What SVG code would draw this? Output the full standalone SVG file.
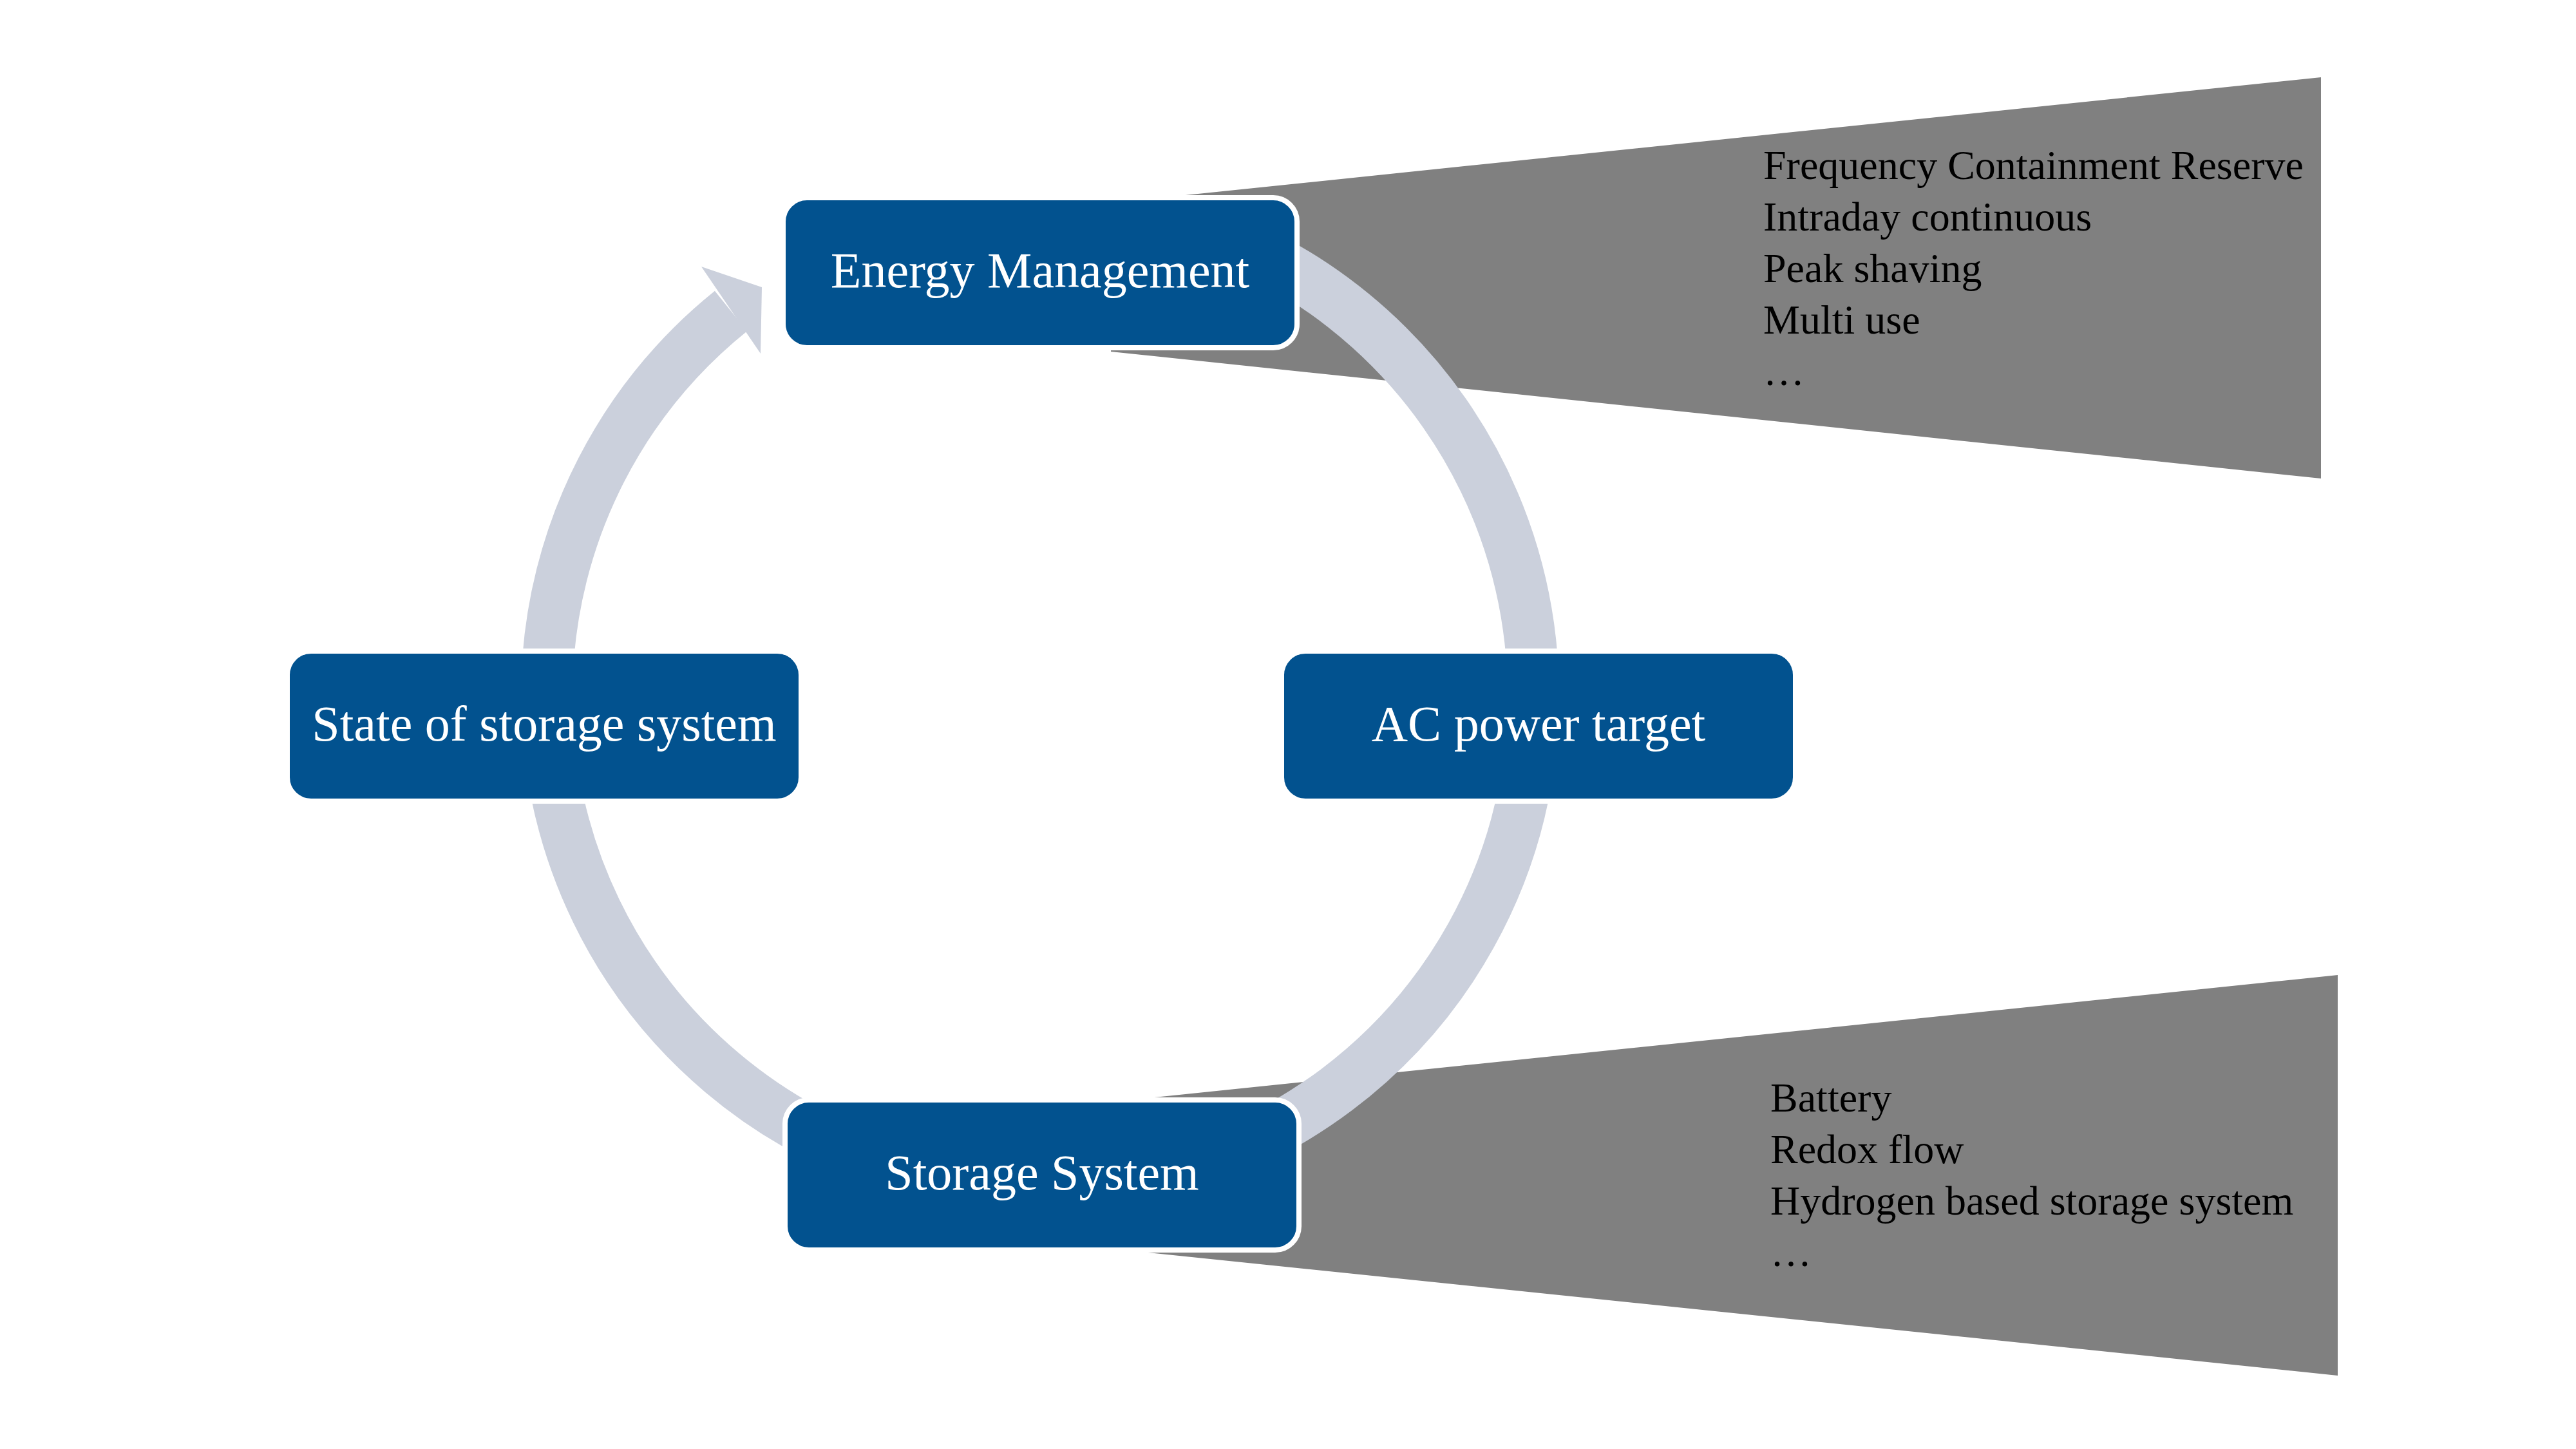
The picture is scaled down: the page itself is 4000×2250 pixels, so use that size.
<svg xmlns="http://www.w3.org/2000/svg" width="4000" height="2250" viewBox="0 0 4000 2250">
  <style>
    .wedge { fill: #808080; }
    .ring { fill: none; stroke: #CBD0DC; stroke-width: 80; }
    .arrowhead { fill: #CBD0DC; }
    .box { fill: #02528F; stroke: #FFFFFF; stroke-width: 8; }
    .label { font-family: "Liberation Serif", "Times New Roman", serif; font-size: 78px; fill: #FFFFFF; text-anchor: middle; }
    .item { font-family: "Liberation Serif", "Times New Roman", serif; font-size: 64px; fill: #000000; }
  </style>
  <rect x="0" y="0" width="4000" height="2250" fill="#FFFFFF"/>

  <g id="wedge-energy">
    <polygon class="wedge" points="1725,315 3604,120 3604,743 1725,546"/>
    <text class="item" x="2738" y="278">Frequency Containment Reserve</text>
    <text class="item" x="2738" y="358">Intraday continuous</text>
    <text class="item" x="2738" y="438">Peak shaving</text>
    <text class="item" x="2738" y="518">Multi use</text>
    <text class="item" x="2738" y="598">…</text>
  </g>

  <g id="wedge-storage">
    <polygon class="wedge" points="1725,1711 3630,1514 3630,2136 1725,1939"/>
    <text class="item" x="2749" y="1726">Battery</text>
    <text class="item" x="2749" y="1806">Redox flow</text>
    <text class="item" x="2749" y="1886">Hydrogen based storage system</text>
    <text class="item" x="2749" y="1966">…</text>
  </g>

  <g id="connectors">
    <path class="ring" d="M 1851.7 351.5 A 766 766 0 1 1 1135 483"/>
    <polygon class="arrowhead" points="1089,414 1183,446 1181,549"/>
  </g>

  <g id="node-energy-management">
    <rect class="box" x="1216" y="307" width="798" height="233" rx="37" ry="37"/>
    <text class="label" x="1615" y="446">Energy Management</text>
  </g>

  <g id="node-state-of-storage">
    <rect class="box" x="446" y="1011" width="798" height="233" rx="37" ry="37"/>
    <text class="label" x="845" y="1150">State of storage system</text>
  </g>

  <g id="node-ac-power-target">
    <rect class="box" x="1990" y="1011" width="798" height="233" rx="37" ry="37"/>
    <text class="label" x="2389" y="1150">AC power target</text>
  </g>

  <g id="node-storage-system">
    <rect class="box" x="1219" y="1708" width="798" height="233" rx="37" ry="37"/>
    <text class="label" x="1618" y="1847">Storage System</text>
  </g>
</svg>
